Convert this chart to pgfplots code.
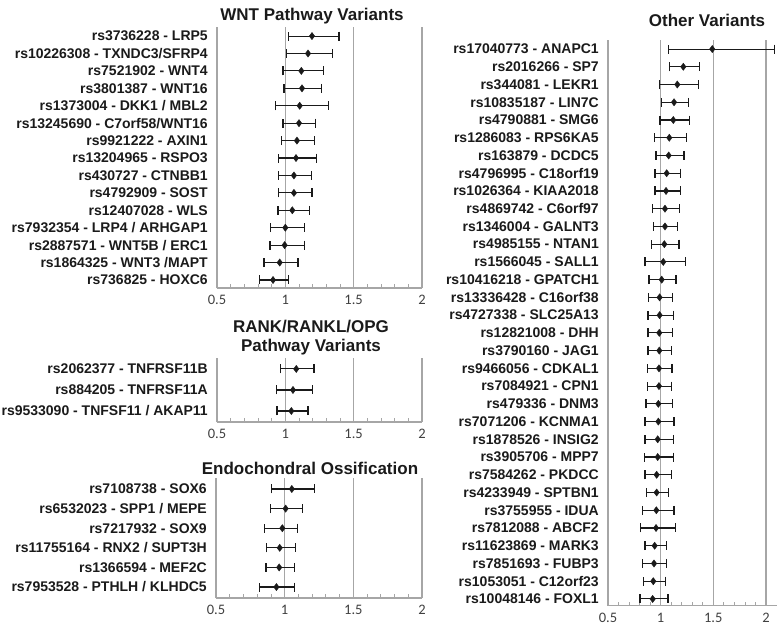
\documentclass[border=0pt]{standalone}
\usepackage{pgfplots}
\pgfplotsset{compat=1.18}
\usepackage{pgfplotstable}
\usepackage{fontspec}
\setmainfont{Liberation Sans}
\newfontfamily\carlito{Carlito}
\definecolor{axgray}{HTML}{A6A6A6}
\definecolor{tickgray}{HTML}{404040}
\definecolor{ink}{HTML}{1A1A1A}

% y counts from the bottom row (1) upward
\pgfplotstableread[col sep=comma]{
y,or,lo,hi
15,1.195,1.024,1.393
14,1.166,1.007,1.344
13,1.117,0.983,1.276
12,1.122,0.990,1.263
11,1.105,0.927,1.317
10,1.100,0.983,1.222
9,1.085,0.971,1.215
8,1.078,0.951,1.227
7,1.063,0.951,1.190
6,1.063,0.951,1.195
5,1.051,0.946,1.178
4,1.000,0.893,1.137
3,0.995,0.888,1.137
2,0.959,0.844,1.093
1,0.910,0.812,1.020
}\wnt

\pgfplotstableread[col sep=comma]{
y,or,lo,hi
3,1.080,0.966,1.210
2,1.056,0.934,1.202
1,1.044,0.939,1.166
}\rank

\pgfplotstableread[col sep=comma]{
y,or,lo,hi
6,1.052,0.905,1.214
5,1.007,0.900,1.131
4,0.983,0.852,1.095
3,0.964,0.869,1.076
2,0.960,0.864,1.071
1,0.940,0.814,1.071
}\endo

\pgfplotstableread[col sep=comma]{
y,or,lo,hi
32,1.490,1.073,2.085
31,1.215,1.082,1.367
30,1.158,0.987,1.361
29,1.127,1.006,1.263
28,1.120,0.994,1.272
27,1.082,0.940,1.247
26,1.076,0.956,1.222
25,1.057,0.946,1.190
24,1.051,0.946,1.190
23,1.041,0.921,1.177
22,1.041,0.930,1.158
21,1.035,0.915,1.174
20,1.025,0.851,1.237
19,1.010,0.889,1.146
18,0.990,0.883,1.114
17,0.990,0.880,1.120
16,0.987,0.880,1.111
15,0.987,0.880,1.104
14,0.984,0.873,1.108
13,0.984,0.873,1.104
12,0.978,0.861,1.114
11,0.978,0.851,1.127
10,0.972,0.851,1.120
9,0.972,0.845,1.120
8,0.962,0.851,1.104
7,0.962,0.867,1.076
6,0.959,0.826,1.127
5,0.956,0.810,1.139
4,0.943,0.851,1.057
3,0.937,0.826,1.057
2,0.930,0.835,1.047
1,0.924,0.804,1.070
}\other

\pgfplotsset{
 forest/.style={
  scale only axis, anchor=south west,
  xmin=0.5, xmax=2,
  xtick={0.5,1,1.5,2},
  xticklabels={0.5,1,1.5,2},
  minor x tick num=4,
  axis x line=bottom, axis y line=left,
  axis line style={-, draw=axgray, line width=1.2pt},
  every inner x axis line/.append style={-},
  every inner y axis line/.append style={-},
  xmajorgrids, major grid style={draw=axgray, line width=1.2pt},
  tick align=inside, major tick length=0pt, minor tick length=4pt,
  minor tick style={draw=axgray, line width=0.8pt},
  xticklabel style={font=\carlito\fontsize{14.5}{16}\selectfont, text=tickgray, inner sep=0pt, yshift=-7pt},
  yticklabel style={font=\bfseries\fontsize{14}{16}\selectfont, text=ink, inner sep=0pt, xshift=-9pt},
  /pgf/number format/assume math mode=true,
  clip=false,
 },
 fp/.style={only marks, mark=diamond*, mark size=3.6pt, color=ink,
   error bars/x dir=both, error bars/x explicit,
   error bars/error mark=|,
   error bars/error bar style={line width=1.1pt, color=ink},
   error bars/error mark options={line width=1.1pt, mark size=4.5pt, color=ink}},
}

\begin{document}
\begin{tikzpicture}
\useasboundingbox (0pt,0pt) rectangle (779pt,-633pt);

\node[font=\bfseries\fontsize{17}{20}\selectfont, text=ink] at (312pt,-16pt) {WNT Pathway Variants};
\node[font=\bfseries\fontsize{17}{20}\selectfont, text=ink, align=center] at (311pt,-338pt) {RANK/RANKL/OPG\\[-1pt]Pathway Variants};
\node[font=\bfseries\fontsize{17}{20}\selectfont, text=ink] at (310pt,-468pt) {Endochondral Ossification};
\node[font=\bfseries\fontsize{17}{20}\selectfont, text=ink] at (707pt,-20pt) {Other Variants};

% WNT
\begin{axis}[forest, at={(217pt,-288pt)}, width=205pt, height=261pt,
  ymin=0.54, ymax=15.52, ytick={1,...,15},
  yticklabels={rs736825 - HOXC6, rs1864325 - WNT3 /MAPT, rs2887571 - WNT5B / ERC1, rs7932354 - LRP4 / ARHGAP1, rs12407028 - WLS, rs4792909 - SOST, rs430727 - CTNBB1, rs13204965 - RSPO3, rs9921222 - AXIN1, rs13245690 - C7orf58/WNT16, rs1373004 - DKK1 / MBL2, rs3801387 - WNT16, rs7521902 - WNT4, rs10226308 - TXNDC3/SFRP4, rs3736228 - LRP5}]
\addplot[fp] table[x=or, y=y, x error plus expr=\thisrow{hi}-\thisrow{or}, x error minus expr=\thisrow{or}-\thisrow{lo}] {\wnt};
\end{axis}

% RANK
\begin{axis}[forest, at={(217pt,-422pt)}, width=205pt, height=64pt,
  ymin=0.476, ymax=3.52, ytick={1,2,3},
  yticklabels={rs9533090 - TNFSF11 / AKAP11, rs884205 - TNFRSF11A, rs2062377 - TNFRSF11B}]
\addplot[fp] table[x=or, y=y, x error plus expr=\thisrow{hi}-\thisrow{or}, x error minus expr=\thisrow{or}-\thisrow{lo}] {\rank};
\end{axis}

% Endochondral
\begin{axis}[forest, at={(216pt,-598pt)}, width=206pt, height=120pt,
  ymin=0.44, ymax=6.56, ytick={1,...,6},
  yticklabels={rs7953528 - PTHLH / KLHDC5, rs1366594 - MEF2C, rs11755164 - RNX2 / SUPT3H, rs7217932 - SOX9, rs6532023 - SPP1 / MEPE, rs7108738 - SOX6}]
\addplot[fp] table[x=or, y=y, x error plus expr=\thisrow{hi}-\thisrow{or}, x error minus expr=\thisrow{or}-\thisrow{lo}] {\endo};
\end{axis}

% Other
\begin{axis}[forest, at={(608pt,-605.5pt)}, width=168.5pt, height=565.5pt,
  xmax=2.1,
  ymin=0.63, ymax=32.51, ytick={1,...,32},
  yticklabels={rs10048146 - FOXL1, rs1053051 - C12orf23, rs7851693 - FUBP3, rs11623869 - MARK3, rs7812088 - ABCF2, rs3755955 - IDUA, rs4233949 - SPTBN1, rs7584262 - PKDCC, rs3905706 - MPP7, rs1878526 - INSIG2, rs7071206 - KCNMA1, rs479336 - DNM3, rs7084921 - CPN1, rs9466056 - CDKAL1, rs3790160 - JAG1, rs12821008 - DHH, rs4727338 - SLC25A13, rs13336428 - C16orf38, rs10416218 - GPATCH1, rs1566045 - SALL1, rs4985155 - NTAN1, rs1346004 - GALNT3, rs4869742 - C6orf97, rs1026364 - KIAA2018, rs4796995 - C18orf19, rs163879 - DCDC5, rs1286083 - RPS6KA5, rs4790881 - SMG6, rs10835187 - LIN7C, rs344081 - LEKR1, rs2016266 - SP7, rs17040773 - ANAPC1}]
\addplot[fp] table[x=or, y=y, x error plus expr=\thisrow{hi}-\thisrow{or}, x error minus expr=\thisrow{or}-\thisrow{lo}] {\other};
\end{axis}
\end{tikzpicture}
\end{document}
